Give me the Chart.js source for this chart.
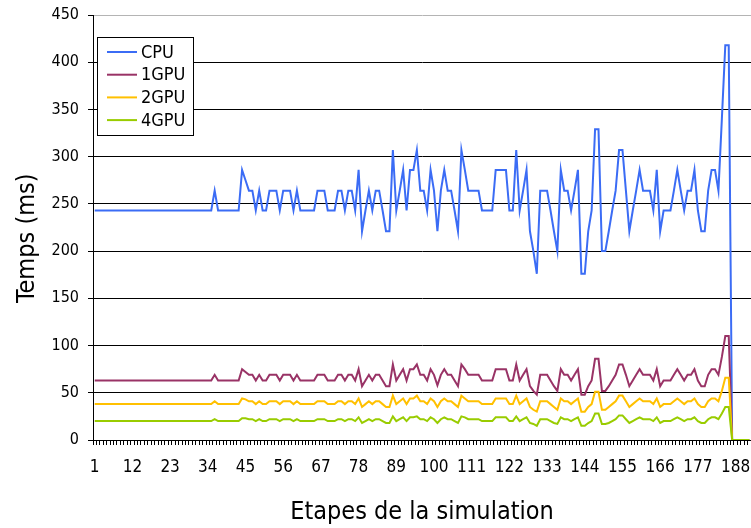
<!DOCTYPE html>
<html>
<head>
<meta charset="utf-8">
<title>Temps par étape de simulation</title>
<script src="https://cdn.jsdelivr.net/npm/chart.js@4.4.1/dist/chart.umd.min.js"></script>
<style>
  html, body { margin: 0; padding: 0; background: #fff; }
  canvas { display: block; }
</style>
</head>
<body>
<canvas id="tempsChart" width="751" height="528"></canvas>
<script>
// temps de calcul (ms) pour chaque étape de la simulation
var cpu = [
  243,243,243,243,243,243,243,243,243,243,243,243,243,243,243,243,243,243,243,243,
  243,243,243,243,243,243,243,243,243,243,243,243,243,243,243,264,243,243,243,243,
  243,243,243,286,275,264,264,243,264,243,243,264,264,264,243,264,264,264,243,264,
  243,243,243,243,243,264,264,264,243,243,243,264,264,243,264,264,243,286,221,243,
  264,243,264,264,243,221,221,307,243,264,286,243,286,286,307,264,264,243,286,264,
  221,264,286,264,264,243,221,307,286,264,264,264,264,243,243,243,243,286,286,286,
  286,243,243,307,243,264,286,221,200,176,264,264,264,243,221,200,286,264,264,243,
  264,286,176,176,221,243,329,329,200,200,221,243,264,307,307,264,221,243,264,286,
  264,264,264,243,286,221,243,243,243,264,286,264,243,264,264,286,243,221,221,264,
  286,286,264,340,418,418,0,0,0,0,0,0
];
var gpu1 = [
  63,63,63,63,63,63,63,63,63,63,63,63,63,63,63,63,63,63,63,63,
  63,63,63,63,63,63,63,63,63,63,63,63,63,63,63,69,63,63,63,63,
  63,63,63,75,72,69,69,63,69,63,63,69,69,69,63,69,69,69,63,69,
  63,63,63,63,63,69,69,69,63,63,63,69,69,63,69,69,63,75,57,63,
  69,63,69,69,63,57,57,80,63,69,75,63,75,75,80,69,69,63,75,69,
  58,69,75,69,69,63,57,80,75,69,69,69,69,63,63,63,63,75,75,75,
  75,63,63,80,63,69,75,57,52,48,69,69,69,63,57,52,75,69,69,63,
  69,75,48,48,57,63,86,86,52,52,57,63,69,80,80,69,57,63,69,75,
  69,69,69,63,75,57,63,63,63,69,75,69,63,69,69,75,63,57,57,69,
  75,75,69,88,110,110,0,0,0,0,0,0
];
var gpu2 = [
  38,38,38,38,38,38,38,38,38,38,38,38,38,38,38,38,38,38,38,38,
  38,38,38,38,38,38,38,38,38,38,38,38,38,38,38,41,38,38,38,38,
  38,38,38,44,43,41,41,38,41,38,38,41,41,41,38,41,41,41,38,41,
  38,38,38,38,38,41,41,41,38,38,38,41,41,38,41,41,38,44,35,38,
  41,38,41,41,38,35,35,47,38,41,44,38,44,44,47,41,41,38,44,41,
  35,41,44,41,41,38,35,47,44,41,41,41,41,38,38,38,38,44,44,44,
  44,38,38,47,38,41,44,35,32,30,41,41,41,38,35,32,44,41,41,38,
  41,44,30,30,35,38,51,51,32,32,35,38,41,47,47,41,35,38,41,44,
  41,41,41,38,44,35,38,38,38,41,44,41,38,41,41,44,38,35,35,41,
  44,44,41,52,66,66,0,0,0,0,0,0
];
var gpu4 = [
  20,20,20,20,20,20,20,20,20,20,20,20,20,20,20,20,20,20,20,20,
  20,20,20,20,20,20,20,20,20,20,20,20,20,20,20,22,20,20,20,20,
  20,20,20,23,23,22,22,20,22,20,20,22,22,22,20,22,22,22,20,22,
  20,20,20,20,20,22,22,22,20,20,20,22,22,20,22,22,20,24,18,20,
  22,20,22,22,20,18,18,25,20,22,24,20,24,24,25,22,22,20,24,22,
  18,22,24,22,22,20,18,25,24,22,22,22,22,20,20,20,20,24,24,24,
  24,20,20,25,20,22,24,18,17,15,22,22,22,20,18,17,24,22,22,20,
  22,24,15,15,18,20,28,28,17,17,18,20,22,26,26,22,18,20,22,24,
  22,22,22,20,24,18,20,20,20,22,24,22,20,22,22,24,20,18,18,22,
  24,24,22,28,35,35,0,0,0,0,0,0
];
var tickLabels = ['1','12','23','34','45','56','67','78','89','100','111','122','133','144','155','166','177','188'];

var steps = [];
for (var i = 1; i <= cpu.length; i++) {
  steps.push(String(i));
}

var fontFamily = "'Liberation Sans Narrow', 'DejaVu Sans Condensed', 'Liberation Sans', Arial, sans-serif";

// petite légende encadrée dans le coin haut gauche
var legendBox = {
  id: 'legendBox',
  afterDatasetsDraw: function(chart) {
    var ctx = chart.ctx;
    var bx = 97, by = 37, bw = 96, bh = 98;
    ctx.save();
    ctx.fillStyle = '#fff';
    ctx.fillRect(bx, by, bw, bh);
    ctx.strokeStyle = '#000';
    ctx.lineWidth = 1;
    ctx.strokeRect(bx + 0.5, by + 0.5, bw, bh);
    ctx.font = '18px ' + fontFamily;
    ctx.textBaseline = 'middle';
    var names = ['CPU', '1GPU', '2GPU', '4GPU'];
    names.forEach(function(name, k) {
      var ds = chart.data.datasets.filter(function(d) { return d.label === name; })[0];
      var ly = 52 + k * 22.7;
      ctx.strokeStyle = ds.borderColor;
      ctx.lineWidth = 2;
      ctx.beginPath();
      ctx.moveTo(107, ly);
      ctx.lineTo(137, ly);
      ctx.stroke();
      ctx.fillStyle = '#000';
      ctx.fillText(name, 141, ly + 1);
    });
    ctx.restore();
  }
};

new Chart(document.getElementById('tempsChart'), {
  type: 'line',
  data: {
    labels: steps,
    datasets: [
      { label: 'CPU', data: cpu, borderColor: '#3b6cf5', order: 3 },
      { label: '1GPU', data: gpu1, borderColor: '#993366', order: 2 },
      { label: '2GPU', data: gpu2, borderColor: '#ffc000', order: 1 },
      { label: '4GPU', data: gpu4, borderColor: '#99cc00', order: 0 }
    ]
  },
  options: {
    responsive: false,
    animation: false,
    layout: { padding: { top: 15, right: 0, left: 0, bottom: 0 } },
    elements: {
      line: { borderWidth: 2, tension: 0, fill: false },
      point: { radius: 0 }
    },
    plugins: {
      legend: { display: false },
      tooltip: { enabled: false }
    },
    scales: {
      x: {
        type: 'category',
        offset: true,
        afterFit: function(s) {
          s.height = 88;
          s.paddingLeft = 0;
          s.paddingRight = 0;
        },
        grid: { offset: true, drawOnChartArea: false, tickLength: 5, color: '#000' },
        border: { color: '#000', width: 1 },
        ticks: {
          autoSkip: false,
          maxRotation: 0,
          minRotation: 0,
          padding: 12,
          color: '#000',
          font: { size: 17, family: fontFamily },
          callback: function(v) {
            var l = this.getLabelForValue(v);
            return tickLabels.indexOf(l) >= 0 ? l : '';
          }
        },
        title: {
          display: true,
          text: 'Etapes de la simulation',
          color: '#000',
          font: { size: 25, family: fontFamily },
          padding: { top: 0, bottom: 1 }
        }
      },
      y: {
        min: 0,
        max: 450,
        afterFit: function(s) {
          s.width = 93;
          s.paddingTop = 0;
          s.paddingBottom = 0;
        },
        grid: {
          color: function(c) { return c.tick && c.tick.value === 450 ? '#b4b4b4' : '#000'; },
          tickColor: '#000',
          tickLength: 5
        },
        border: { color: '#000', width: 1 },
        ticks: {
          stepSize: 50,
          padding: 9,
          color: '#000',
          font: { size: 16, family: fontFamily }
        },
        title: {
          display: true,
          text: 'Temps (ms)\u00a0\u00a0\u00a0',
          color: '#000',
          font: { size: 25, family: fontFamily },
          padding: { top: 12, bottom: 0 }
        }
      }
    }
  },
  plugins: [legendBox]
});
</script>
</body>
</html>
